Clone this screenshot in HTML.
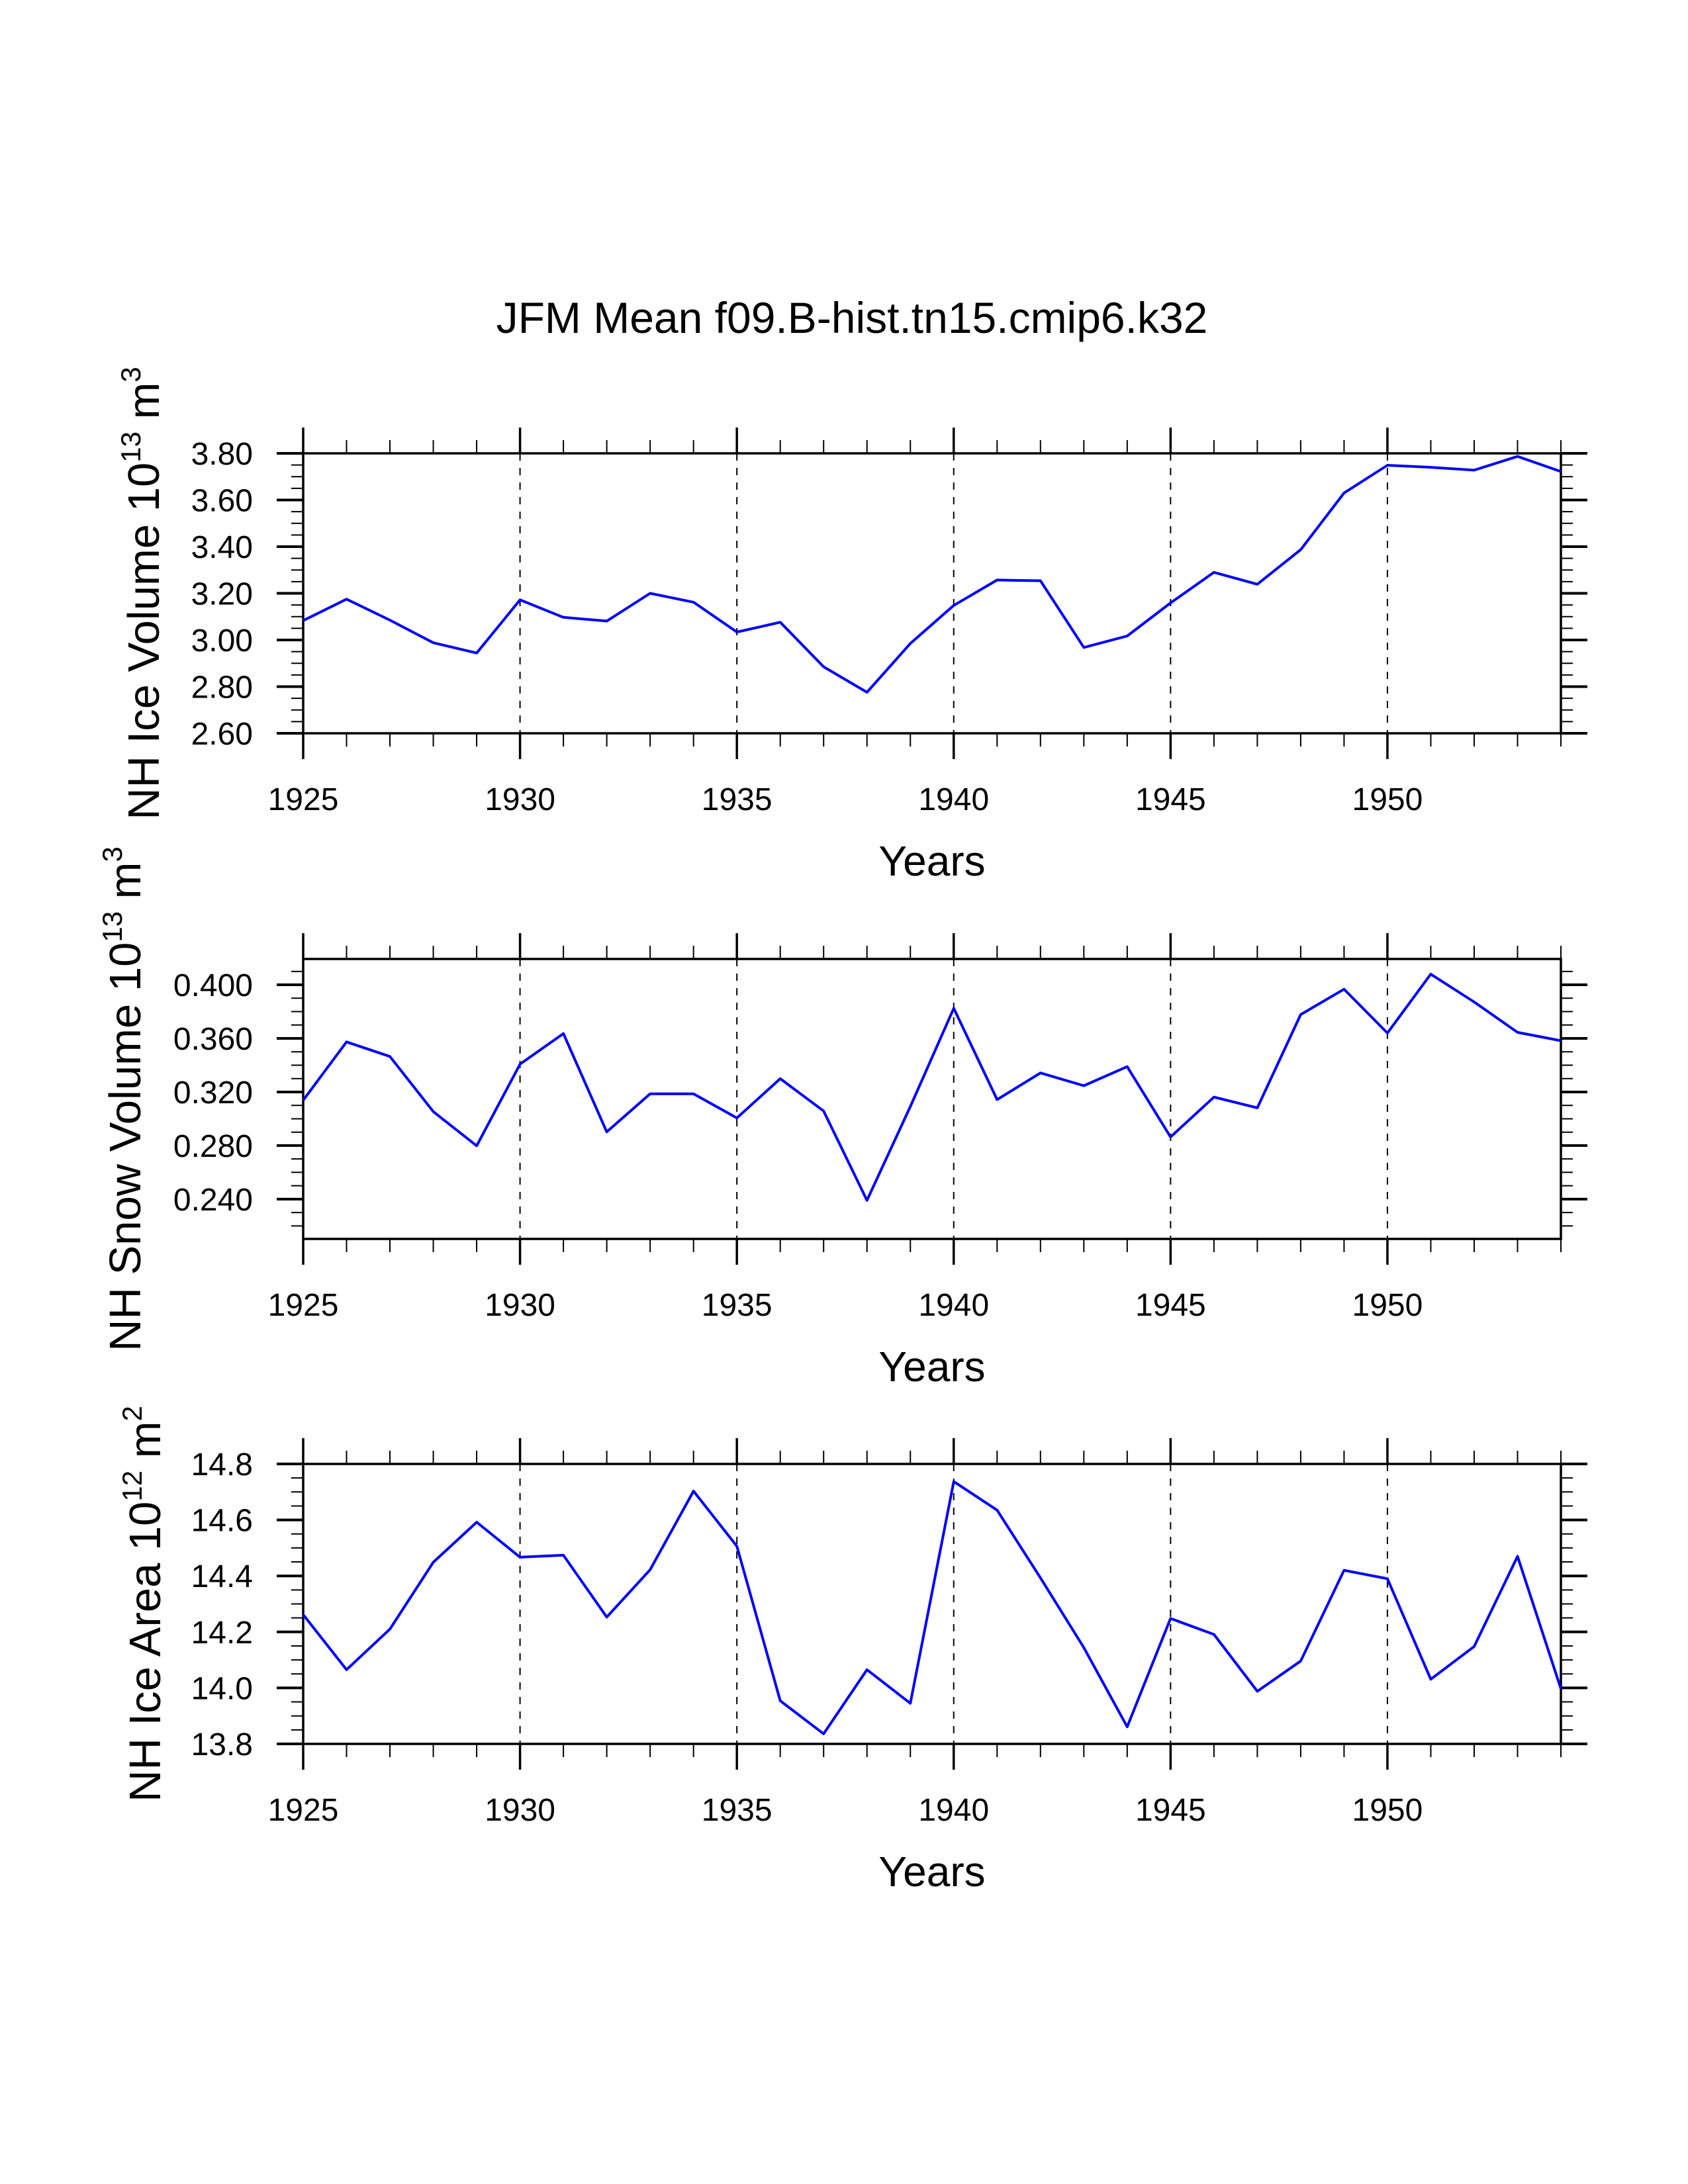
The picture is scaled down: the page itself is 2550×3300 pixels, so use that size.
<!DOCTYPE html>
<html><head><meta charset="utf-8"><style>
html,body{margin:0;padding:0;background:#fff;}
svg{display:block;}
text{font-family:"Liberation Sans",sans-serif;fill:#000;}
</style></head><body>
<svg id="fig" width="2550" height="3300" viewBox="0 0 2550 3300" xmlns="http://www.w3.org/2000/svg">
<text x="1287" y="503" font-size="66" text-anchor="middle">JFM Mean f09.B-hist.tn15.cmip6.k32</text>
</svg>
<script>
const years = [1925,1926,1927,1928,1929,1930,1931,1932,1933,1934,1935,1936,1937,1938,1939,1940,1941,1942,1943,1944,1945,1946,1947,1948,1949,1950,1951,1952,1953,1954];
const iceVolume = [3.083,3.175,3.085,2.988,2.944,3.172,3.097,3.081,3.200,3.162,3.034,3.076,2.885,2.776,2.985,3.148,3.257,3.254,2.968,3.017,3.159,3.290,3.239,3.387,3.630,3.749,3.740,3.728,3.787,3.722];
const snowVolume = [0.3138,0.3574,0.3465,0.3053,0.2798,0.3408,0.3636,0.2902,0.3186,0.3186,0.3006,0.3299,0.3058,0.2391,0.3091,0.3825,0.3143,0.3342,0.3247,0.3389,0.2864,0.3162,0.3082,0.3778,0.3967,0.3640,0.4080,0.3872,0.3645,0.3583];
const iceArea = [14.262,14.065,14.210,14.449,14.592,14.467,14.474,14.253,14.422,14.703,14.506,13.954,13.836,14.065,13.945,14.737,14.635,14.393,14.144,13.861,14.248,14.191,13.988,14.096,14.420,14.390,14.031,14.148,14.470,13.997];
const xMajorTicks = [1925,1930,1935,1940,1945,1950];
const gridYears = [1930,1935,1940,1945,1950];
const iceVolTicks = ["2.60","2.80","3.00","3.20","3.40","3.60","3.80"];
const snowTicks = ["0.240","0.280","0.320","0.360","0.400"];
const areaTicks = ["13.8","14.0","14.2","14.4","14.6","14.8"];

const NS='http://www.w3.org/2000/svg';
const svg=document.getElementById('fig');
function mk(tag,attrs,parent){const e=document.createElementNS(NS,tag);for(const k in attrs)e.setAttribute(k,attrs[k]);(parent||svg).appendChild(e);return e;}

const L=458,R=2358,X0=1925,X1=1954;
function xs(v){return L+(v-X0)/(X1-X0)*(R-L);}

function panel(name,top,ymin,ymax,minorStep,ticks,values,label,sup,unitSup,labelX){
  const B=top+423;
  const ys=v=>B-(v-ymin)/(ymax-ymin)*(B-top);
  const g=mk('g',{});
  
  
  gridYears.forEach(y=>{
    const l=mk('line',{x1:xs(y),x2:xs(y),y1:top,y2:B,stroke:'#000','stroke-width':2,'stroke-dasharray':'11 11'},g);
    
    
  });
  for(let y=X0;y<=X1;y++){
    const maj=(y%5===0);const len=maj?39:20;const w=maj?3.5:2;
    mk('line',{x1:xs(y),x2:xs(y),y1:top,y2:top-len,stroke:'#000','stroke-width':w},g);
    mk('line',{x1:xs(y),x2:xs(y),y1:B,y2:B+len,stroke:'#000','stroke-width':w},g);
  }
  xMajorTicks.forEach(y=>{
    const t=mk('text',{x:xs(y),y:B+116,'font-size':48,'text-anchor':'middle'},g);
    t.textContent=y;
    
    
  });
  const start=Math.ceil(ymin/minorStep-1e-6);
  for(let i=start;i*minorStep<=ymax+1e-9;i++){
    const v=i*minorStep;const yy=ys(v);
    const isMaj=ticks.some(t=>Math.abs(parseFloat(t)-v)<minorStep/10);
    const len=isMaj?40:18;const w=isMaj?4:2;
    mk('line',{x1:L,x2:L-len,y1:yy,y2:yy,stroke:'#000','stroke-width':w},g);
    mk('line',{x1:R,x2:R+len,y1:yy,y2:yy,stroke:'#000','stroke-width':w},g);
  }
  ticks.forEach(t=>{
    const tx=mk('text',{x:382,y:ys(parseFloat(t))+17,'font-size':48,'text-anchor':'end'},g);
    tx.textContent=t;
    
    
  });
  const fr=mk('rect',{x:L,y:top,width:R-L,height:B-top,fill:'none',stroke:'#000','stroke-width':3.5},g);
  
  
  const pts=values.map((v,i)=>xs(years[i]).toFixed(1)+','+ys(v).toFixed(1)).join(' ');
  const pl=mk('polyline',{points:pts,fill:'none',stroke:'#0000ff','stroke-width':4,'stroke-linejoin':'round'},g);
  
  
  const xt=mk('text',{x:1408,y:B+215,'font-size':64,'text-anchor':'middle'},g);
  xt.textContent='Years';
  
  
  const cy=(top+B)/2;
  const yt=mk('text',{x:0,y:0,'font-size':67,'text-anchor':'middle',transform:'translate('+labelX+','+cy+') rotate(-90)'},g);
  
  
  const s1=document.createElementNS(NS,'tspan');s1.textContent=label+' 10';yt.appendChild(s1);
  const s2=document.createElementNS(NS,'tspan');s2.setAttribute('dy','-28');s2.setAttribute('font-size','42');s2.textContent=sup;yt.appendChild(s2);
  const s3=document.createElementNS(NS,'tspan');s3.setAttribute('dy','28');s3.textContent=' m';yt.appendChild(s3);
  const s4=document.createElementNS(NS,'tspan');s4.setAttribute('dy','-28');s4.setAttribute('font-size','42');s4.textContent=unitSup;yt.appendChild(s4);
}
panel('ice-volume',685,2.60,3.80,0.05,iceVolTicks,iceVolume,'NH Ice Volume','13','3',240);
panel('snow-volume',1449,0.2103,0.4193,0.01,snowTicks,snowVolume,'NH Snow Volume','13','3',212);
panel('ice-area',2212,13.8,14.8,0.05,areaTicks,iceArea,'NH Ice Area','12','2',242);
</script>
</body></html>
